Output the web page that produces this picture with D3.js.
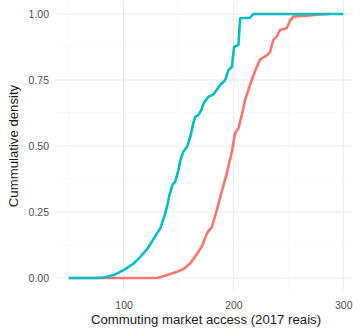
<!DOCTYPE html>
<html>
<head>
<meta charset="utf-8">
<script src="https://cdn.jsdelivr.net/npm/d3@7"></script>
<style>
  html, body { margin: 0; padding: 0; background: #fff; }
  svg { display: block; font-family: "Liberation Sans", Arial, sans-serif; }
</style>
</head>
<body>
<svg id="chart" width="353" height="331"></svg>
<script>
// Cumulative distribution of commuting market access, two groups
const groupA_x = [50, 130.6, 139.6, 148.7, 154.7, 160.7, 166.8, 171.4, 175.9, 180.4, 184.9, 189.5, 194.0, 198.5, 201.5, 204.5, 207.6, 210.6, 215.1, 219.7, 224.2, 230.3, 233.3, 236.3, 239.4, 242.3, 248.4, 251.4, 254.4, 266.5, 278.6, 287.6];
const groupA_y = [0, 0, 0.011, 0.024, 0.034, 0.056, 0.091, 0.121, 0.169, 0.194, 0.258, 0.330, 0.397, 0.477, 0.548, 0.567, 0.617, 0.674, 0.731, 0.784, 0.828, 0.843, 0.856, 0.902, 0.914, 0.939, 0.946, 0.973, 0.990, 0.994, 0.998, 1.0];

const groupB_x = [50, 75, 81.9, 90.9, 100, 109.1, 115.4, 121.5, 127.2, 133.5, 137.2, 139.9, 141.7, 144.4, 147.1, 149.9, 151.7, 154.4, 157.8, 160.7, 163.5, 165.3, 168.0, 170.7, 172.8, 177.3, 181.9, 187.9, 192.5, 195.5, 198.5, 200.6, 204.5, 206.1, 215.1, 218.1, 300];
const groupB_y = [0, 0, 0.002, 0.011, 0.030, 0.055, 0.081, 0.110, 0.148, 0.189, 0.235, 0.277, 0.314, 0.352, 0.366, 0.409, 0.447, 0.478, 0.497, 0.535, 0.587, 0.611, 0.617, 0.636, 0.662, 0.687, 0.696, 0.731, 0.750, 0.788, 0.799, 0.875, 0.883, 0.984, 0.986, 1.0, 1.0];

const xTicks = [100, 200, 300];
const xMinor = [50, 150, 250];
const yTicks = [0, 0.25, 0.5, 0.75, 1];
const yMinor = [0.125, 0.375, 0.625, 0.875];
const colorA = "#F8766D";
const colorB = "#00BFC4";

const svg = d3.select("#chart");

const x = d3.scaleLinear().domain([37.5, 312.5]).range([55, 357]);
const y = d3.scaleLinear().domain([-0.05, 1.05]).range([291.2, 0.8]);

const grid = svg.append("g");
grid.selectAll(".gxm").data(xMinor).enter().append("line")
  .attr("x1", d => x(d)).attr("x2", d => x(d))
  .attr("y1", y.range()[0]).attr("y2", y.range()[1])
  .attr("stroke", "#F3F3F3").attr("stroke-width", 0.6);
grid.selectAll(".gym").data(yMinor).enter().append("line")
  .attr("x1", x.range()[0]).attr("x2", x.range()[1])
  .attr("y1", d => y(d)).attr("y2", d => y(d))
  .attr("stroke", "#F3F3F3").attr("stroke-width", 0.6);
grid.selectAll(".gx").data(xTicks).enter().append("line")
  .attr("x1", d => x(d)).attr("x2", d => x(d))
  .attr("y1", y.range()[0]).attr("y2", y.range()[1])
  .attr("stroke", "#EBEBEB").attr("stroke-width", 1.1);
grid.selectAll(".gy").data(yTicks).enter().append("line")
  .attr("x1", x.range()[0]).attr("x2", x.range()[1])
  .attr("y1", d => y(d)).attr("y2", d => y(d))
  .attr("stroke", "#EBEBEB").attr("stroke-width", 1.1);

// Axes: labels only, no domain or tick marks
const xAxis = svg.append("g").attr("transform", "translate(0,291.2)")
  .call(d3.axisBottom(x).tickValues(xTicks).tickSize(0).tickPadding(10).tickFormat(d3.format("d")));
const yAxis = svg.append("g").attr("transform", "translate(55,0)")
  .call(d3.axisLeft(y).tickValues(yTicks).tickSize(0).tickPadding(6).tickFormat(d3.format(".2f")));
[xAxis, yAxis].forEach(a => {
  a.select(".domain").remove();
  a.selectAll("text").attr("fill", "#4D4D4D").attr("font-size", "10.5px")
    .attr("font-family", "Liberation Sans, Arial, sans-serif");
});
yAxis.selectAll("text").attr("dy", "0.35em");

const line = d3.line().x(d => x(d[0])).y(d => y(d[1]));
const seriesA = groupA_x.map((v, i) => [v, groupA_y[i]]);
const seriesB = groupB_x.map((v, i) => [v, groupB_y[i]]);

svg.append("path").datum(seriesA).attr("d", line)
  .attr("fill", "none").attr("stroke", colorA).attr("stroke-width", 2.6)
  .attr("stroke-linejoin", "round");
svg.append("path").datum(seriesB).attr("d", line)
  .attr("fill", "none").attr("stroke", colorB).attr("stroke-width", 2.6)
  .attr("stroke-linejoin", "round");

svg.append("text").attr("x", x(175)).attr("y", 323.5)
  .attr("text-anchor", "middle").attr("font-size", "13.2px").attr("fill", "#1a1a1a")
  .text("Commuting market access (2017 reais)");
svg.append("text").attr("transform", "translate(18," + y(0.5) + ") rotate(-90)")
  .attr("text-anchor", "middle").attr("font-size", "13.2px").attr("fill", "#1a1a1a")
  .text("Cummulative density");
</script>
</body>
</html>
